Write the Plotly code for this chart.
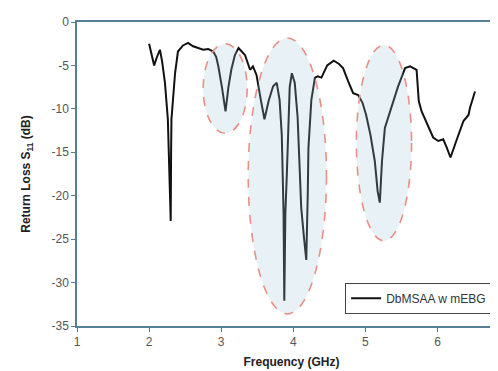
import plotly.graph_objects as go

freq = [2.00, 2.04, 2.07, 2.11, 2.15, 2.18, 2.22, 2.26, 2.285, 2.30, 2.305, 2.31, 2.36, 2.40,
        2.47, 2.54, 2.61, 2.68, 2.75, 2.82, 2.89, 2.93, 2.96, 3.01, 3.06, 3.10, 3.14, 3.19, 3.24,
        3.33, 3.40, 3.44, 3.49, 3.55, 3.60, 3.66, 3.72, 3.77, 3.81, 3.84, 3.865, 3.875, 3.89,
        3.91, 3.93, 3.95, 3.98, 4.02, 4.06, 4.11, 4.15, 4.18, 4.20, 4.21, 4.25, 4.30, 4.34,
        4.39, 4.47, 4.56, 4.63, 4.69, 4.76, 4.83, 4.90, 4.96, 5.01, 5.07, 5.13, 5.17, 5.20,
        5.23, 5.27, 5.36, 5.45, 5.55, 5.62, 5.71, 5.74, 5.78, 5.85, 5.94, 6.01, 6.08, 6.13,
        6.18, 6.26, 6.36, 6.43, 6.45, 6.52]
s11 = [-2.5, -4.0, -5.0, -4.0, -3.2, -4.5, -7.0, -11.2, -18.0, -22.9, -15.0, -11.2, -5.9, -3.4,
       -2.7, -2.4, -2.8, -3.0, -3.2, -3.1, -3.4, -4.0, -5.1, -7.5, -10.3, -7.5, -5.5, -3.8, -3.0,
       -3.8, -5.5, -5.1, -6.1, -9.0, -11.2, -9.0, -7.4, -7.0, -9.0, -13.0, -22.0, -32.1, -22.0,
       -17.6, -11.8, -7.5, -5.9, -7.0, -11.0, -21.4, -25.0, -27.4, -20.0, -14.5, -9.0, -6.4, -6.25,
       -6.4, -5.0, -4.45, -4.8, -5.3, -6.8, -8.2, -8.4, -9.3, -10.7, -13.0, -16.0, -19.5, -20.8,
       -16.0, -12.2, -9.9, -7.5, -5.3, -5.1, -5.5, -9.1, -10.3, -11.6, -13.3, -13.7, -13.5, -14.5,
       -15.6, -13.7, -11.4, -10.7, -9.9, -8.0]

# highlighted regions (x0, x1, y0, y1) in data units
ellipse_x0 = [2.75, 3.375, 4.875]
ellipse_x1 = [3.36, 4.46, 5.64]
ellipse_y0 = [-12.8, -33.6, -25.2]
ellipse_y1 = [-2.5, -1.85, -2.65]

series_name = "DbMSAA w mEBG"
x_ticks = [1, 2, 3, 4, 5, 6]
x_ticktext = ["1", "2", "3", "4", "5", "6"]
y_ticks = [0, -5, -10, -15, -20, -25, -30, -35]
y_ticktext = ["0", "-5", "-10", "-15", "-20", "-25", "-30", "-35"]

font_family = "Arial, Liberation Sans, sans-serif"
axis_color = "#557f94"

fig = go.Figure()
fig.add_trace(go.Scatter(x=freq, y=s11, mode="lines", name=series_name,
                         line=dict(color="#111111", width=2)))

for a, b, c, d in zip(ellipse_x0, ellipse_x1, ellipse_y0, ellipse_y1):
    fig.add_shape(type="circle", xref="x", yref="y", x0=a, x1=b, y0=c, y1=d,
                  fillcolor="rgba(160,198,212,0.24)",
                  line=dict(color="#ea8f86", width=1.6, dash="dash"),
                  layer="above")

fig.update_layout(
    width=498, height=371,
    margin=dict(l=69, r=0, t=14, b=53),
    paper_bgcolor="white", plot_bgcolor="white",
    font=dict(family=font_family, size=12, color="#555555"),
    showlegend=True,
    legend=dict(x=0.625, y=0.04, xanchor="left", yanchor="bottom",
                bgcolor="white", bordercolor="#444444", borderwidth=1,
                font=dict(size=12, color="#333333"),
                itemwidth=30, entrywidth=140),
)
fig.update_xaxes(range=[1, 6.95], tickvals=x_ticks, ticktext=x_ticktext,
                 ticks="outside", ticklen=4,
                 tickcolor=axis_color, showline=True, linecolor=axis_color, linewidth=1.5,
                 mirror=True, showgrid=False, zeroline=False,
                 title=dict(text="<b>Frequency (GHz)</b>", font=dict(size=12, color="#222222"),
                            standoff=9))
fig.update_yaxes(range=[-35, 0], tickvals=y_ticks, ticktext=y_ticktext,
                 ticks="outside", ticklen=4,
                 tickcolor=axis_color, showline=True, linecolor=axis_color, linewidth=1.5,
                 showgrid=False, zeroline=False,
                 title=dict(text="<b>Return Loss S<sub>11</sub> (dB)</b>",
                            font=dict(size=12, color="#222222"), standoff=18))

fig.write_html("out.html")
